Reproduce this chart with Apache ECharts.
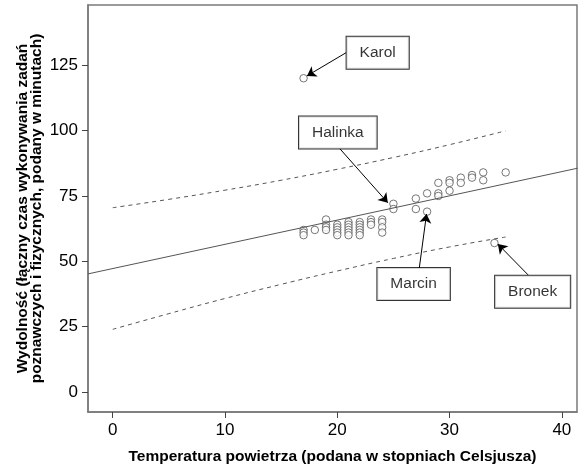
<!DOCTYPE html>
<html>
<head>
<meta charset="utf-8">
<script src="https://cdn.jsdelivr.net/npm/echarts@6/dist/echarts.min.js"></script>
<style>
	html, body {margin: 0; padding: 0; background: #fff;}
	#chart {width: 578px; height: 471px;}
</style>
</head>
<body>
<div id="chart"></div>
<script>
const font = '"Liberation Sans", Arial, sans-serif';

// observed points [temperature, minutes]
const points = [
	[17, 62], [17, 61], [17, 60], [17, 120],
	[18, 62],
	[19, 66], [19, 64], [19, 63], [19, 62],
	[20, 64], [20, 63], [20, 62], [20, 61], [20, 60],
	[21, 65], [21, 64], [21, 63], [21, 62], [21, 61], [21, 60],
	[22, 65], [22, 64], [22, 63], [22, 62], [22, 61], [22, 60],
	[23, 66], [23, 65], [23, 64],
	[24, 66], [24, 65], [24, 63], [24, 61],
	[25, 72], [25, 70],
	[27, 74], [27, 70],
	[28, 76], [28, 69],
	[29, 80], [29, 76], [29, 75],
	[30, 81], [30, 80], [30, 77],
	[31, 82], [31, 80],
	[32, 83], [32, 82],
	[33, 84], [33, 81],
	[34, 57],
	[35, 84]
];

// fit line across the plot, and prediction band
const fitLine = [[-2.2, 45.2], [41.4, 85.6]];
const bandX = [0, 5, 10, 15, 20, 25, 30, 35];
const bandUpper = [70.5, 73.7, 77.2, 81.0, 85.2, 89.7, 94.6, 99.9];
const bandLower = [24.0, 30.0, 35.8, 41.2, 46.3, 51.1, 55.5, 59.3];

// annotation boxes: name, box centre, arrow start, arrow tip
const notes = ['Karol', 'Halinka', 'Marcin', 'Bronek'];
const noteBox = [[23.6, 129.7], [20.05, 99.3], [26.8, 41.3], [37.4, 38.4]];
const noteFrom = [[20.8, 129.8], [20.2, 93.2], [27.3, 47.3], [37.0, 44.8]];
const noteTo = [[17.3, 120.9], [24.5, 72.4], [27.95, 68.1], [34.3, 56.6]];

const xTicks = [0, 10, 20, 30, 40];
const yTicks = [0, 25, 50, 75, 100, 125];

const xTitle = 'Temperatura powietrza (podana w stopniach Celsjusza)';
const yTitle = 'Wydolność (łączny czas wykonywania zadań\npoznawczych i fizycznych, podany w minutach)';

const axisColor = '#7a7a7a';
const band = values => bandX.map((x, i) => [x, values[i]]);

const chart = echarts.init(document.getElementById('chart'), null, {renderer: 'canvas'});
chart.setOption({
	animation: false,
	textStyle: {fontFamily: font},
	grid: {left: 88, right: 1, top: 5, bottom: 59, show: true, borderColor: axisColor, borderWidth: 1.5, backgroundColor: 'transparent'},
	xAxis: {
		type: 'value', min: -2.2, max: 41.35,
		axisLine: {show: true, onZero: false, lineStyle: {color: axisColor, width: 1.5}},
		axisTick: {show: true, inside: false, length: 6, customValues: xTicks, lineStyle: {color: '#444', width: 1}},
		axisLabel: {customValues: xTicks, fontSize: 17, color: '#000', margin: 10, fontFamily: font},
		splitLine: {show: false},
		name: xTitle, nameLocation: 'middle', nameGap: 37, nameMoveOverlap: false,
		nameTextStyle: {fontSize: 15.5, fontWeight: 'bold', color: '#000', fontFamily: font}
	},
	yAxis: {
		type: 'value', min: -7.6, max: 148,
		axisLine: {show: true, onZero: false, lineStyle: {color: axisColor, width: 1.5}},
		axisTick: {show: true, inside: false, length: 6, customValues: yTicks, lineStyle: {color: '#444', width: 1}},
		axisLabel: {customValues: yTicks, fontSize: 17, color: '#000', margin: 10, fontFamily: font},
		splitLine: {show: false},
		name: yTitle, nameLocation: 'middle', nameGap: 44, nameRotate: 90, nameMoveOverlap: false,
		nameTextStyle: {fontSize: 15.5, fontWeight: 'bold', color: '#000', lineHeight: 14.5, fontFamily: font}
	},
	series: [
		{
			type: 'line', data: fitLine, showSymbol: false, silent: true,
			lineStyle: {color: '#555', width: 1}
		},
		{
			type: 'line', data: band(bandUpper), showSymbol: false, smooth: true, silent: true,
			lineStyle: {color: '#555', width: 1, type: [4, 4]}
		},
		{
			type: 'line', data: band(bandLower), showSymbol: false, smooth: true, silent: true,
			lineStyle: {color: '#555', width: 1, type: [4, 4]}
		},
		{
			type: 'scatter', data: points, symbol: 'circle', symbolSize: 7.5,
			itemStyle: {color: '#fff', borderColor: '#555', borderWidth: 1}
		},
		{
			type: 'scatter', symbolSize: 0, z: 5,
			data: notes.map((name, i) => ({name, value: noteBox[i]})),
			label: {
				show: true, position: 'inside', formatter: '{b}',
				fontSize: 15.5, color: '#000', fontFamily: font, lineHeight: 16,
				backgroundColor: '#fff', borderColor: '#000', borderWidth: 1, padding: [8, 13]
			},
			markLine: {
				silent: true, symbol: ['none', 'arrow'], symbolSize: 9, animation: false,
				label: {show: false},
				lineStyle: {color: '#000', width: 1, type: 'solid'},
				data: notes.map((_, i) => [{coord: noteFrom[i]}, {coord: noteTo[i]}])
			}
		}
	]
});
</script>
</body>
</html>
